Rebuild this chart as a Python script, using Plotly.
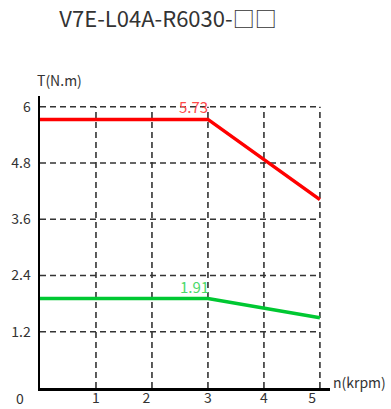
import plotly.graph_objects as go

# ---- data ----
speed_krpm = [0, 3, 5]
torque_peak = [5.73, 5.73, 4.02]
torque_rated = [1.91, 1.91, 1.50]
peak_label = "5.73"
rated_label = "1.91"

x_grid = [1, 2, 3, 4, 5]
x_tick_pos = [1, 1.9, 3, 4, 4.86]
x_tick_text = ["1", "2", "3", "4", "5"]
y_ticks = [1.2, 2.4, 3.6, 4.8, 6]
y_tick_text = ["1.2", "2.4", "3.6", "4.8", "6"]
origin_label = "0"

title_text = "V7E-L04A-R6030-□□"
y_title = "T(N.m)"
x_title = "n(krpm)"

FONT = "Noto Sans CJK JP"
TXT = "#333333"

L, R, T, B = 40, 61, 96, 21
W, H = 391, 409
pw, ph = W - L - R, H - T - B

fig = go.Figure()

fig.add_trace(go.Scatter(x=speed_krpm, y=torque_peak, mode="lines",
                         line=dict(color="#ff0000", width=3.5),
                         hoverinfo="skip", showlegend=False, cliponaxis=False))
fig.add_trace(go.Scatter(x=speed_krpm, y=torque_rated, mode="lines",
                         line=dict(color="#00c832", width=3.5),
                         hoverinfo="skip", showlegend=False, cliponaxis=False))

shapes = []
ymax_grid = max(y_ticks)
xmax_grid = max(x_grid)
for xv in x_grid:
    shapes.append(dict(type="line", xref="x", yref="y", x0=xv, x1=xv, y0=0, y1=ymax_grid,
                       line=dict(color="#333333", width=1.6, dash="6px,4px"), layer="below"))
for yv in y_ticks:
    shapes.append(dict(type="line", xref="x", yref="y", x0=0, x1=xmax_grid, y0=yv, y1=yv,
                       line=dict(color="#333333", width=1.6, dash="6px,4px"), layer="below"))

annotations = [
    dict(x=speed_krpm[1], y=torque_peak[1], xref="x", yref="y", text=peak_label,
         showarrow=False, xanchor="right", yanchor="bottom", xshift=2, yshift=0,
         font=dict(family=FONT, size=15, color="#ff4a4a")),
    dict(x=speed_krpm[1], y=torque_rated[1], xref="x", yref="y", text=rated_label,
         showarrow=False, xanchor="right", yanchor="bottom", xshift=3, yshift=-1,
         font=dict(family=FONT, size=15, color="#4cd96a")),
    dict(x=(20 - L) / pw, y=0, xref="paper", yref="paper", text=origin_label, showarrow=False,
         xanchor="center", yanchor="middle", yshift=-10,
         font=dict(family=FONT, size=14, color=TXT)),
    dict(x=(59 - L) / pw, y=(H - B - 80) / ph, xref="paper", yref="paper", text=y_title,
         showarrow=False, xanchor="center", yanchor="middle",
         font=dict(family=FONT, size=14, color=TXT)),
    dict(x=1, y=0, xref="paper", yref="paper", text=x_title, showarrow=False,
         xanchor="left", yanchor="middle", xshift=1, yshift=6,
         font=dict(family=FONT, size=14, color=TXT)),
]

fig.update_layout(
    width=W, height=H,
    margin=dict(l=L, r=R, t=T, b=B, autoexpand=False),
    paper_bgcolor="white", plot_bgcolor="white",
    title=dict(text=title_text, x=168 / W, xanchor="center", y=1 - 19 / H, yanchor="middle",
               font=dict(family=FONT, size=22, color=TXT)),
    xaxis=dict(range=[0, 5.18], showgrid=False, zeroline=False, automargin=False,
               showline=True, linecolor="black", linewidth=2.5,
               tickmode="array", tickvals=x_tick_pos, ticktext=x_tick_text,
               ticks="", ticklabelstandoff=-4,
               tickfont=dict(family=FONT, size=14, color=TXT)),
    yaxis=dict(range=[0, 6.23], showgrid=False, zeroline=False, automargin=False,
               showline=True, linecolor="black", linewidth=2.5,
               tickmode="array", tickvals=y_ticks, ticktext=y_tick_text,
               ticks="", ticklabelstandoff=4,
               tickfont=dict(family=FONT, size=14, color=TXT)),
    shapes=shapes,
    annotations=annotations,
)

fig.write_html("out.html", config={"displayModeBar": False, "staticPlot": True},
               post_script="document.body.style.margin='0';document.body.style.overflow='hidden';")
